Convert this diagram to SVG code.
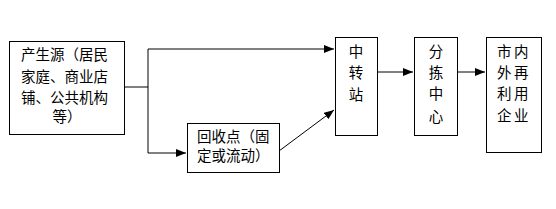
<svg xmlns="http://www.w3.org/2000/svg" width="556" height="209" viewBox="0 0 556 209">
<style>
.box{fill:#fff;stroke:#000;stroke-width:1}
.t{font-family:"Noto Sans CJK SC","Noto Sans",sans-serif;font-size:14.5px;fill:#000}
.w{letter-spacing:2.5px}
.c{stroke:#000;stroke-width:1;fill:none}
</style>
<defs>
<marker id="ah" markerWidth="10" markerHeight="8" refX="10" refY="4" orient="auto" markerUnits="userSpaceOnUse">
<path d="M0,0 L10,4 L0,8 Z" fill="#000"/>
</marker>
</defs>
<rect width="556" height="209" fill="#fff"/>
<g id="connectors">
<path class="c" d="M124,87 H148 V49 H334" marker-end="url(#ah)"/>
<path class="c" d="M148,87 V153 H186" marker-end="url(#ah)"/>
<path class="c" d="M279,151 L334,110" marker-end="url(#ah)"/>
<path class="c" d="M377,72 H413" marker-end="url(#ah)"/>
<path class="c" d="M457,72 H485" marker-end="url(#ah)"/>
</g>
<g id="source">
<rect class="box" x="9.5" y="41.5" width="115" height="93"/>
<text class="t" x="21" y="60">产生源（居民</text>
<text class="t" x="21" y="82">家庭、商业店</text>
<text class="t" x="21" y="103">铺、公共机构</text>
<text class="t" x="67" y="122" text-anchor="middle">等）</text>
</g>
<g id="collection">
<rect class="box" x="187.5" y="123.5" width="92" height="49"/>
<text class="t" x="197" y="142">回收点（固</text>
<text class="t" x="197" y="161">定或流动）</text>
</g>
<g id="transfer">
<rect class="box" x="335.5" y="37.5" width="42" height="98"/>
<text class="t" x="356" y="57" text-anchor="middle">中</text>
<text class="t" x="356" y="78" text-anchor="middle">转</text>
<text class="t" x="356" y="100" text-anchor="middle">站</text>
</g>
<g id="sorting">
<rect class="box" x="414.5" y="37.5" width="43" height="98"/>
<text class="t" x="436" y="57" text-anchor="middle">分</text>
<text class="t" x="436" y="78" text-anchor="middle">拣</text>
<text class="t" x="436" y="99" text-anchor="middle">中</text>
<text class="t" x="436" y="122" text-anchor="middle">心</text>
</g>
<g id="reuse">
<rect class="box" x="486.5" y="37.5" width="55" height="115"/>
<text class="t w" x="497" y="57">市内</text>
<text class="t w" x="497" y="78">外再</text>
<text class="t w" x="497" y="99">利用</text>
<text class="t w" x="497" y="121">企业</text>
</g>
</svg>
